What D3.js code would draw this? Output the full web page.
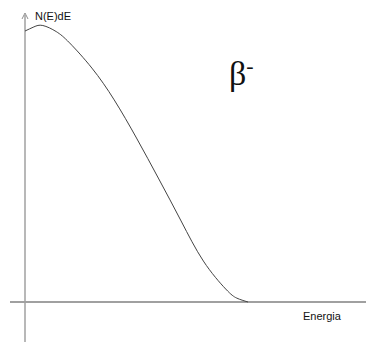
<!DOCTYPE html>
<html>
<head>
<meta charset="utf-8">
<script src="https://cdn.jsdelivr.net/npm/d3@7"></script>
<style>
html,body{margin:0;padding:0;background:#fff;}
svg{display:block;}
</style>
</head>
<body>
<script>
// Energy (normalised to end-point energy) and spectrum N(E) (normalised to peak)
const energy = [0, 0.04, 0.08, 0.14, 0.2, 0.3, 0.4, 0.5, 0.6, 0.7, 0.8, 0.9, 0.95, 1.0];
const counts = [0.98, 0.995, 1.0, 0.978, 0.937, 0.846, 0.731, 0.593, 0.445, 0.293, 0.148, 0.047, 0.014, 0];
const yLabel = "N(E)dE";
const xLabel = "Energia";
const title = "β";
const titleSup = "-";

const W = 366, H = 342;
const svg = d3.select("body").append("svg").attr("width", W).attr("height", H);

const x = d3.scaleLinear().domain([0, 1]).range([25, 248]);
const y = d3.scaleLinear().domain([0, 1]).range([302, 25.5]);

// axes
svg.append("line").attr("x1", 10).attr("x2", W).attr("y1", y(0)).attr("y2", y(0))
  .attr("stroke", "#808080").attr("stroke-width", 1.3);
svg.append("line").attr("x1", x(0)).attr("x2", x(0)).attr("y1", 15).attr("y2", H)
  .attr("stroke", "#a0a0a0").attr("stroke-width", 1.5);
svg.append("path").attr("d", `M${x(0)-3},${19} L${x(0)},${13} L${x(0)+3},${19}`)
  .attr("fill", "none").attr("stroke", "#909090").attr("stroke-width", 1);

const line = d3.line().x((d, i) => x(energy[i])).y(d => y(d)).curve(d3.curveNatural);
svg.append("path").datum(counts).attr("d", line)
  .attr("fill", "none").attr("stroke", "#444").attr("stroke-width", 1);

svg.append("text").attr("x", 35).attr("y", 20).text(yLabel)
  .attr("font-family", "Liberation Sans, Arial, sans-serif").attr("font-size", 11).attr("fill", "#111");
svg.append("text").attr("x", 303).attr("y", 320).text(xLabel)
  .attr("font-family", "Liberation Sans, Arial, sans-serif").attr("font-size", 11).attr("fill", "#111");

const t = svg.append("text").attr("x", 229).attr("y", 85)
  .attr("font-family", "Liberation Serif, Times New Roman, serif").attr("font-size", 34).attr("fill", "#111");
t.append("tspan").text(title);
t.append("tspan").attr("font-size", 22).attr("dy", -12).text(titleSup);
</script>
</body>
</html>
